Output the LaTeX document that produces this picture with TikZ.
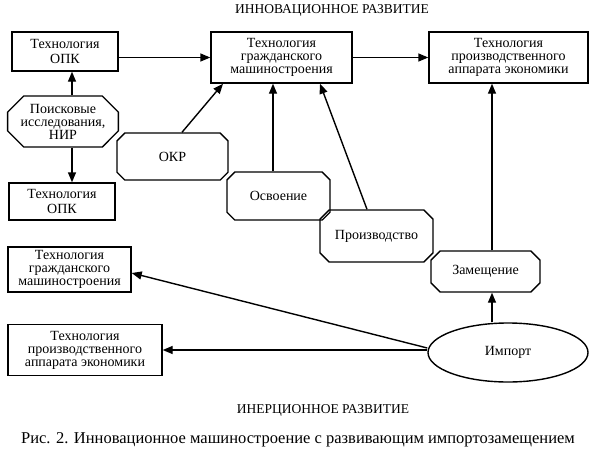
\documentclass[tikz,border=0pt]{standalone}
\usepackage{fontspec}
\setmainfont{Liberation Serif}
\usetikzlibrary{shapes.misc,shapes.geometric,arrows.meta}

\begin{document}
\begin{tikzpicture}[x=1pt,y=-1pt,line width=1.4pt,
  >={Triangle[length=10pt,width=8pt]},
  every node/.style={font=\fontsize{14}{13}\selectfont},
  box/.style={rectangle,draw,align=center,inner sep=0pt},
  octa/.style={chamfered rectangle,chamfered rectangle xsep=13pt,draw,align=center,inner sep=0pt}]
  \useasboundingbox (0,0) rectangle (595,456);

	\node[font=\fontsize{13.5}{13.5}\selectfont] (innov) at (332,10) {ИННОВАЦИОННОЕ РАЗВИТИЕ};
	\node[box,minimum width=106pt,minimum height=39pt] (opk) at (65,51.5) {Технология\\[2pt]ОПК};
	\node[box,minimum width=141pt,minimum height=51pt] (civ) at (281.5,57.5) {Технология\\гражданского\\машиностроения};
	\node[box,minimum width=159pt,minimum height=51pt] (prodapp) at (508.5,57.5) {Технология\\производственного\\аппарата экономики};
	\node[octa,minimum width=110pt,minimum height=51pt] (nir) at (63,121.5) {Поисковые\\исследования,\\НИР};
	\node[box,minimum width=106pt,minimum height=37pt] (opk2) at (62,201.5) {Технология\\[2pt]ОПК};
	\node[octa,minimum width=111pt,minimum height=47pt] (okr) at (172.5,156.5) {ОКР};
	\node[octa,minimum width=103pt,minimum height=48pt] (osv) at (278.5,196) {Освоение};
	\node[octa,minimum width=113pt,minimum height=52pt] (proizv) at (376.5,236) {Производство};
	\node[octa,minimum width=109pt,minimum height=41pt] (zam) at (485.5,271.5) {Замещение};
	\node[ellipse,draw,minimum width=160pt,minimum height=59pt] (imp) at (508,352.5) {Импорт};
	\node[box,minimum width=123pt,minimum height=45pt] (civ2) at (69.5,269.5) {Технология\\гражданского\\машиностроения};
	\node[box,minimum width=154pt,minimum height=51pt] (prodapp2) at (85,350) {Технология\\производственного\\аппарата экономики};
	\node[font=\fontsize{13.5}{13.5}\selectfont] (inert) at (323,410) {ИНЕРЦИОННОЕ РАЗВИТИЕ};
	\node[font=\fontsize{16.5}{16.5}\selectfont] (cap) at (298,440) {Рис. 2. Инновационное машиностроение с развивающим импортозамещением};

	\draw[->] (opk.east |- civ.west) -- (civ.west);
	\draw[->] (civ) -- (prodapp);
	\draw[->] ([xshift=9pt]nir.north) -- ([xshift=9pt]nir.north |- opk.south);
	\draw[->] ([xshift=9pt]nir.south) -- ([xshift=9pt]nir.south |- opk2.north);
	\draw[->] ([xshift=9.5pt]okr.north) -- ([xshift=-58.5pt]civ.south);
	\draw[->] ([xshift=-5.5pt]osv.north) -- ([xshift=-5.5pt]osv.north |- civ.south);
	\draw[->] ([xshift=-9.5pt]proizv.north) -- ([xshift=38.5pt]civ.south);
	\draw[->] ([xshift=6.5pt]zam.north) -- ([xshift=6.5pt]zam.north |- prodapp.south);
	\draw[->] ([xshift=6.5pt]zam.south |- imp.north) -- ([xshift=6.5pt]zam.south);
	\draw[->] ([yshift=4.5pt]imp.west) -- ([yshift=-3.5pt]civ2.east);
	\draw[->] ([yshift=2.5pt]imp.west) -- ([yshift=2.5pt]imp.west -| prodapp2.east);
\end{tikzpicture}
\end{document}
